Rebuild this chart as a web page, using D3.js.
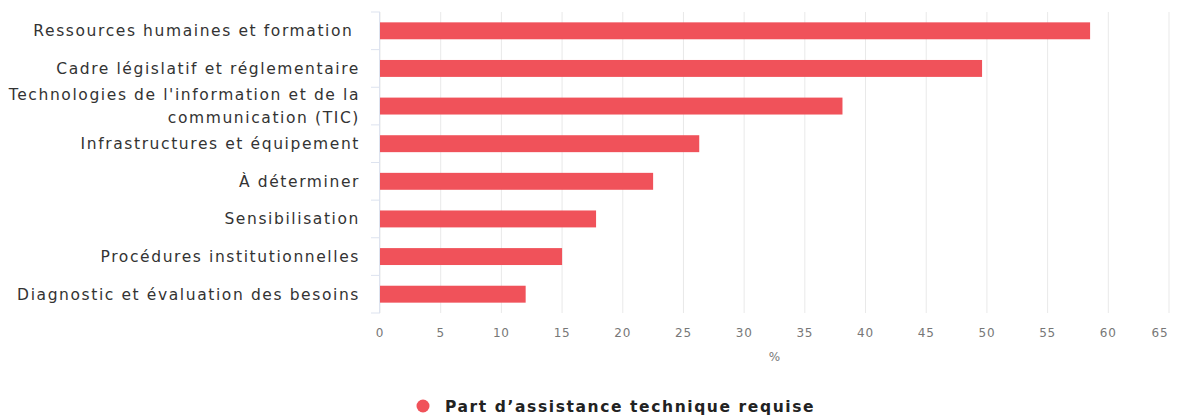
<!DOCTYPE html>
<html><head><meta charset="utf-8">
<script src="https://cdn.jsdelivr.net/npm/d3@7"></script>
<style>body{margin:0;background:#fff}svg{display:block}text{white-space:pre}</style>
</head><body>
<script>
const categories = [
  ["Ressources humaines et formation\u00a0"],
  ["Cadre législatif et réglementaire"],
  ["Technologies de l'information et de la", "communication (TIC)"],
  ["Infrastructures et équipement"],
  ["À déterminer"],
  ["Sensibilisation"],
  ["Procédures institutionnelles"],
  ["Diagnostic et évaluation des besoins"]
];
const values = [58.5, 49.6, 38.1, 26.3, 22.5, 17.8, 15.0, 12.0];
const xTicks = [0,5,10,15,20,25,30,35,40,45,50,55,60,65];
const seriesName = "Part d’assistance technique requise";
const axisTitle = "%";

const W = 1181, H = 416;
const m = {left: 380, right: 12, top: 12, bottom: 103};
const svg = d3.select("body").append("svg").attr("width", W).attr("height", H);
const font = "'DejaVu Sans', Verdana, sans-serif";

const x = d3.scaleLinear().domain([0, 65]).range([m.left, W - m.right]);
const y = d3.scaleBand().domain(d3.range(categories.length)).range([m.top, H - m.bottom]).paddingInner(0.55).paddingOuter(0.275);

// gridlines
svg.append("g").selectAll("line").data(xTicks).join("line")
  .attr("x1", d => x(d)).attr("x2", d => x(d))
  .attr("y1", m.top).attr("y2", H - m.bottom)
  .attr("stroke", "#e9e9e9").attr("stroke-width", 1);

// y axis line & ticks
const yb = d3.scaleBand().domain(d3.range(categories.length)).range([m.top, H - m.bottom]);
svg.append("line").attr("x1", m.left - 0.5).attr("x2", m.left - 0.5).attr("y1", m.top).attr("y2", H - m.bottom)
  .attr("stroke", "#dde3ef");
svg.append("g").selectAll("line").data(d3.range(categories.length + 1)).join("line")
  .attr("x1", m.left - 9).attr("x2", m.left)
  .attr("y1", d => m.top + d * yb.step()).attr("y2", d => m.top + d * yb.step())
  .attr("stroke", "#dde3ef");

// bars
svg.append("g").selectAll("rect").data(values).join("rect")
  .attr("x", x(0)).attr("y", (d, i) => y(i))
  .attr("width", d => x(d) - x(0)).attr("height", y.bandwidth())
  .attr("fill", "#f0525a");

// category labels
const labX = m.left - 20;
const lab = svg.append("g").selectAll("text").data(categories).join("text")
  .attr("x", labX)
  .attr("y", (d, i) => y(i) + y.bandwidth() / 2)
  .attr("text-anchor", "end")
  .attr("font-family", font).attr("font-size", 15.5).attr("letter-spacing", 1.6).attr("fill", "#333");
lab.each(function(lines) {
  const t = d3.select(this);
  const n = lines.length;
  lines.forEach((l, k) => {
    t.append("tspan").attr("x", labX)
      .attr("dy", k === 0 ? ((-(n - 1) / 2) * 1.45 + 0.35) + "em" : "1.45em")
      .text(l);
  });
});

// x tick labels
svg.append("g").selectAll("text").data(xTicks).join("text")
  .attr("x", d => d === 65 ? x(d) - 9 : x(d))
  .attr("y", H - m.bottom + 24)
  .attr("text-anchor", "middle")
  .attr("font-family", font).attr("font-size", 12).attr("letter-spacing", 0.8).attr("fill", "#777")
  .text(d => d);

svg.append("text").attr("x", (x(0) + x(65)) / 2).attr("y", H - m.bottom + 48)
  .attr("text-anchor", "middle").attr("font-family", font).attr("font-size", 12).attr("fill", "#777")
  .text(axisTitle);

// legend
const lg = svg.append("g");
lg.append("circle").attr("cx", 423).attr("cy", 406).attr("r", 6.5).attr("fill", "#f0525a");
lg.append("text").attr("x", 445).attr("y", 411.5)
  .attr("font-family", font).attr("font-size", 15.5).attr("letter-spacing", 1.6).attr("font-weight", "bold").attr("fill", "#222")
  .text(seriesName);
</script>
</body></html>
